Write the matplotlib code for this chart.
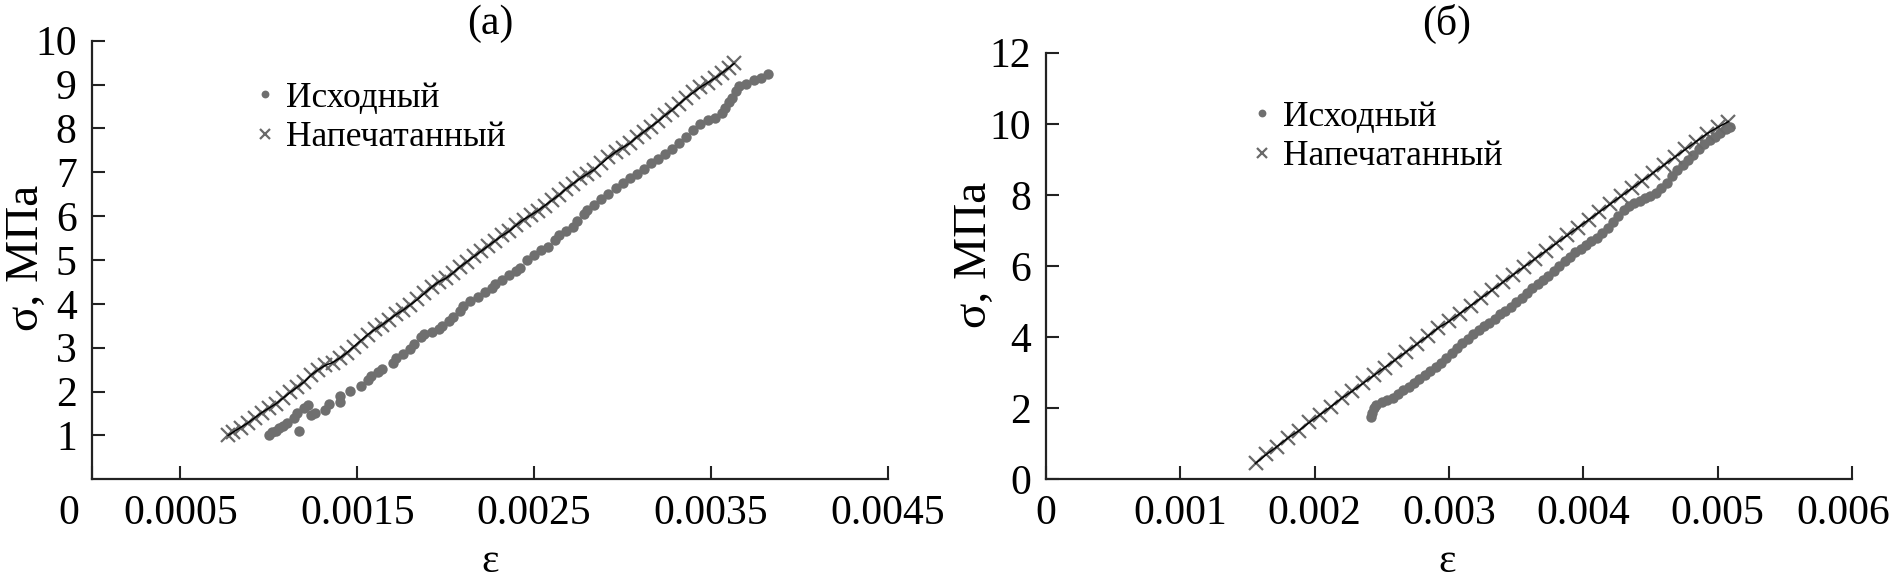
import matplotlib.pyplot as plt
from matplotlib.transforms import ScaledTranslation

plt.rcParams['font.family'] = ['Liberation Serif', 'DejaVu Serif']

# (a) Исходный
a_orig_eps = [0.00100, 0.00102, 0.00104, 0.00106, 0.00108, 0.00110, 0.00114, 0.00116, 0.00117,
              0.00120, 0.00122, 0.00124, 0.00126, 0.00132, 0.00134, 0.00140, 0.00140, 0.00146,
              0.00152, 0.00156, 0.00158, 0.00162, 0.00164, 0.00170, 0.00172, 0.00176, 0.00180,
              0.00182, 0.00186, 0.00188, 0.00192, 0.00196, 0.00198, 0.00202, 0.00204, 0.00208,
              0.00210, 0.00214, 0.00218, 0.00222, 0.00226, 0.00228, 0.00232, 0.00236, 0.00240,
              0.00242, 0.00246, 0.00250, 0.00254, 0.00258, 0.00262, 0.00264, 0.00268, 0.00272,
              0.00274, 0.00278, 0.00280, 0.00284, 0.00288, 0.00292, 0.00296, 0.00300, 0.00304,
              0.00308, 0.00312, 0.00316, 0.00320, 0.00324, 0.00328, 0.00332, 0.00336, 0.00340,
              0.00344, 0.00348, 0.00352, 0.00356, 0.00358, 0.00360, 0.00362, 0.00364, 0.00366,
              0.00370, 0.00374, 0.00378, 0.00382]
a_orig_sig = [1.02, 1.07, 1.10, 1.17, 1.22, 1.28, 1.40, 1.52, 1.10,
              1.62, 1.70, 1.46, 1.52, 1.58, 1.72, 1.76, 1.90, 2.02,
              2.12, 2.26, 2.36, 2.44, 2.52, 2.66, 2.76, 2.86, 2.98,
              3.08, 3.24, 3.32, 3.36, 3.42, 3.50, 3.62, 3.70, 3.84,
              3.96, 4.06, 4.16, 4.28, 4.36, 4.46, 4.54, 4.66, 4.74,
              4.82, 5.00, 5.12, 5.22, 5.30, 5.46, 5.56, 5.66, 5.76,
              5.90, 6.04, 6.14, 6.26, 6.40, 6.50, 6.64, 6.76, 6.88,
              6.96, 7.08, 7.20, 7.30, 7.42, 7.54, 7.66, 7.80, 7.96,
              8.10, 8.18, 8.24, 8.34, 8.46, 8.60, 8.70, 8.86, 8.96,
              9.02, 9.10, 9.16, 9.24]

# (a) Напечатанный
a_print_eps = [0.00077, 0.00080, 0.00084, 0.00088, 0.00092, 0.00096, 0.00100, 0.00104, 0.00108,
               0.00112, 0.00116, 0.00120, 0.00124, 0.00128, 0.00132, 0.00136, 0.00140, 0.00144,
               0.00148, 0.00152, 0.00156, 0.00160, 0.00164, 0.00168, 0.00172, 0.00176, 0.00180,
               0.00184, 0.00188, 0.00192, 0.00196, 0.00200, 0.00204, 0.00208, 0.00212, 0.00216,
               0.00220, 0.00224, 0.00228, 0.00232, 0.00236, 0.00240, 0.00244, 0.00248, 0.00252,
               0.00256, 0.00260, 0.00264, 0.00268, 0.00272, 0.00276, 0.00280, 0.00284, 0.00288,
               0.00292, 0.00296, 0.00300, 0.00304, 0.00308, 0.00312, 0.00316, 0.00320, 0.00324,
               0.00328, 0.00332, 0.00336, 0.00340, 0.00344, 0.00348, 0.00352, 0.00356, 0.00360,
               0.00363]
a_print_sig = [1.00, 1.08, 1.18, 1.28, 1.40, 1.52, 1.62, 1.72, 1.85,
               1.98, 2.10, 2.22, 2.38, 2.50, 2.60, 2.66, 2.76, 2.88,
               3.02, 3.16, 3.30, 3.42, 3.52, 3.64, 3.76, 3.86, 3.98,
               4.10, 4.24, 4.38, 4.50, 4.58, 4.70, 4.84, 4.96, 5.08,
               5.20, 5.32, 5.44, 5.56, 5.66, 5.80, 5.92, 6.02, 6.12,
               6.24, 6.36, 6.48, 6.62, 6.74, 6.86, 6.96, 7.06, 7.20,
               7.34, 7.46, 7.56, 7.66, 7.80, 7.92, 8.04, 8.16, 8.30,
               8.42, 8.56, 8.70, 8.82, 8.94, 9.04, 9.14, 9.26, 9.38,
               9.48]

# (б) Исходный
b_orig_eps = [0.00242, 0.00243, 0.00244, 0.00246, 0.00250, 0.00254, 0.00258, 0.00262, 0.00266,
              0.00270, 0.00274, 0.00278, 0.00282, 0.00286, 0.00290, 0.00294, 0.00298, 0.00302,
              0.00306, 0.00310, 0.00314, 0.00318, 0.00322, 0.00326, 0.00330, 0.00334, 0.00338,
              0.00342, 0.00346, 0.00350, 0.00354, 0.00358, 0.00362, 0.00366, 0.00370, 0.00374,
              0.00378, 0.00382, 0.00386, 0.00390, 0.00394, 0.00398, 0.00402, 0.00406, 0.00410,
              0.00414, 0.00418, 0.00422, 0.00426, 0.00430, 0.00434, 0.00438, 0.00442, 0.00446,
              0.00450, 0.00454, 0.00458, 0.00462, 0.00466, 0.00470, 0.00474, 0.00478, 0.00482,
              0.00486, 0.00490, 0.00494, 0.00498, 0.00502, 0.00506, 0.00509]
b_orig_sig = [1.74, 1.86, 2.00, 2.10, 2.16, 2.22, 2.30, 2.40, 2.50,
              2.60, 2.72, 2.82, 2.92, 3.04, 3.16, 3.28, 3.40, 3.54,
              3.68, 3.82, 3.96, 4.10, 4.20, 4.30, 4.40, 4.52, 4.64,
              4.74, 4.86, 4.98, 5.10, 5.24, 5.38, 5.50, 5.60, 5.72,
              5.86, 6.00, 6.14, 6.26, 6.38, 6.48, 6.60, 6.70, 6.80,
              6.92, 7.06, 7.24, 7.42, 7.58, 7.70, 7.78, 7.84, 7.90,
              7.98, 8.06, 8.18, 8.34, 8.52, 8.70, 8.84, 8.98, 9.12,
              9.28, 9.42, 9.54, 9.64, 9.74, 9.84, 9.92]

# (б) Напечатанный
b_print_eps = [0.00156, 0.00164, 0.00172, 0.00180, 0.00188, 0.00196, 0.00204, 0.00212, 0.00220,
               0.00228, 0.00236, 0.00244, 0.00252, 0.00260, 0.00268, 0.00276, 0.00284, 0.00292,
               0.00300, 0.00308, 0.00316, 0.00324, 0.00332, 0.00340, 0.00348, 0.00356, 0.00364,
               0.00372, 0.00380, 0.00388, 0.00396, 0.00404, 0.00412, 0.00420, 0.00428, 0.00436,
               0.00444, 0.00452, 0.00460, 0.00468, 0.00476, 0.00484, 0.00492, 0.00500, 0.00508]
b_print_sig = [0.45, 0.70, 0.92, 1.16, 1.36, 1.60, 1.82, 2.04, 2.28,
               2.48, 2.70, 2.92, 3.14, 3.36, 3.58, 3.80, 4.02, 4.26,
               4.44, 4.66, 4.88, 5.10, 5.32, 5.54, 5.76, 5.98, 6.20,
               6.42, 6.64, 6.86, 7.08, 7.30, 7.52, 7.74, 7.96, 8.18,
               8.40, 8.62, 8.84, 9.06, 9.28, 9.50, 9.72, 9.90, 10.06]

a_xticks = [0, 0.0005, 0.0015, 0.0025, 0.0035, 0.0045]
a_xlabels = ['0', '0.0005', '0.0015', '0.0025', '0.0035', '0.0045']
a_yticks = [1, 2, 3, 4, 5, 6, 7, 8, 9, 10]
b_xticks = [0, 0.001, 0.002, 0.003, 0.004, 0.005, 0.006]
b_xlabels = ['0', '0.001', '0.002', '0.003', '0.004', '0.005', '0.006']
b_yticks = [0, 2, 4, 6, 8, 10, 12]

fig = plt.figure(figsize=(18.95, 5.86), dpi=100)
ax1 = fig.add_axes([0.0485, 0.1821, 0.4201, 0.7485])
ax2 = fig.add_axes([0.5520, 0.1821, 0.4253, 0.7280])

dot_c = '#6f6f6f'
x_c = '#6a6a6a'
fs = 30
leg_kw = dict(frameon=False, fontsize=25.5, handlelength=0.6, handletextpad=0.3,
              labelspacing=0.17, markerscale=0.75, loc='upper left')

for ax, oe, os_, pe, ps in [(ax1, a_orig_eps, a_orig_sig, a_print_eps, a_print_sig),
                            (ax2, b_orig_eps, b_orig_sig, b_print_eps, b_print_sig)]:
    ax.plot(oe, os_, 'o', color=dot_c, markersize=7.5, markeredgewidth=0, label='Исходный')
    ax.plot(pe, ps, '-', color='black', lw=1.1, zorder=3)
    ax.plot(pe, ps, 'x', color=x_c, markersize=10, markeredgewidth=1.6, label='Напечатанный', zorder=2)
    for s in ['top', 'right']:
        ax.spines[s].set_visible(False)
    for s in ['left', 'bottom']:
        ax.spines[s].set_linewidth(1.6)
        ax.spines[s].set_color('#222222')
    ax.tick_params(direction='in', length=9.5, width=1.5, labelsize=fs, color='#222222')
    ax.tick_params(axis='x', pad=11)
    ax.tick_params(axis='y', pad=11)

ax1.set_xlim(0, 0.0045)
ax1.set_ylim(0, 10)
ax1.set_xticks(a_xticks, a_xlabels)
ax1.set_yticks(a_yticks)
# the "0" label of panel (a) sits left of the axis origin
zero_lbl = ax1.get_xticklabels()[0]
zero_lbl.set_transform(zero_lbl.get_transform() + ScaledTranslation(-0.23, 0, fig.dpi_scale_trans))
ax1.legend(bbox_to_anchor=(222 / 1895, 1 - 50 / 586), bbox_transform=fig.transFigure, **leg_kw)

ax2.set_xlim(0, 0.006)
ax2.set_ylim(0, 12)
ax2.set_xticks(b_xticks, b_xlabels)
ax2.set_yticks(b_yticks)
# keep the last label inside the picture
last_lbl = ax2.get_xticklabels()[-1]
last_lbl.set_transform(last_lbl.get_transform() + ScaledTranslation(-0.09, 0, fig.dpi_scale_trans))
ax2.legend(bbox_to_anchor=(1219 / 1895, 1 - 69 / 586), bbox_transform=fig.transFigure, **leg_kw)

fig.text(490 / 1895, 1 - 24 / 586, '(a)', fontsize=fs, ha='center', va='center')
fig.text(1447 / 1895, 1 - 24 / 586, '(б)', fontsize=fs, ha='center', va='center')
fig.text(490 / 1895, 1 - 562 / 586, 'ε', fontsize=fs, ha='center', va='center')
fig.text(1447 / 1895, 1 - 562 / 586, 'ε', fontsize=fs, ha='center', va='center')
fig.text(27 / 1895, 1 - 258 / 586, 'σ, МПа', fontsize=34, rotation=90, ha='center', va='center')
fig.text(975 / 1895, 1 - 255 / 586, 'σ, МПа', fontsize=34, rotation=90, ha='center', va='center')

fig.savefig('out.png', dpi=100)
